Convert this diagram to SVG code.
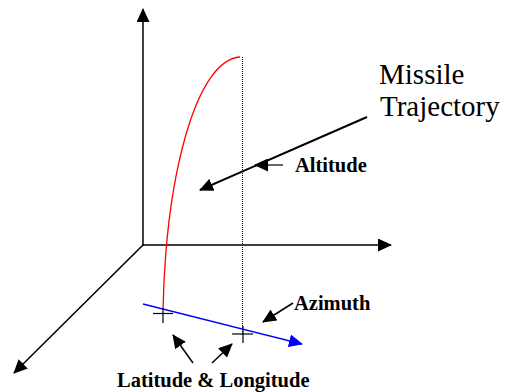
<svg xmlns="http://www.w3.org/2000/svg" width="516" height="392" viewBox="0 0 516 392">
<style>
.ax{stroke:#000;stroke-width:1.5;fill:none}
.lbl{font-family:"Liberation Serif","Times New Roman",serif;font-weight:bold;font-size:20.5px;fill:#000}
.big{font-family:"Liberation Serif","Times New Roman",serif;font-size:29px;fill:#000}
.cr{stroke:#000;stroke-width:1.2;fill:none}
</style>
<defs>
<marker id="ah" markerUnits="userSpaceOnUse" markerWidth="14" markerHeight="13" refX="13" refY="6.5" orient="auto"><path d="M0,0 L14,6.5 L0,13 Z" fill="#000"/></marker>
<marker id="ahb" markerUnits="userSpaceOnUse" markerWidth="14" markerHeight="13" refX="13" refY="6.5" orient="auto"><path d="M0,0 L14,6.5 L0,13 Z" fill="#0000ff"/></marker>
</defs>
<g id="axes">
<line class="ax" x1="143" y1="246" x2="143" y2="9" marker-end="url(#ah)"/>
<line class="ax" x1="142" y1="245" x2="391" y2="245" marker-end="url(#ah)"/>
<line class="ax" x1="143" y1="245" x2="14" y2="373" marker-end="url(#ah)"/>
</g>
<g id="trajectory">
<path d="M240,57 C196,60 166,175 163,310" stroke="#ff0000" stroke-width="1.3" fill="none"/>
</g>
<g id="drop-line">
<line x1="242.5" y1="57" x2="242.5" y2="334" stroke="#000" stroke-width="1" stroke-dasharray="1,1"/>
</g>
<g id="azimuth-line">
<line x1="143" y1="304" x2="302" y2="344" stroke="#0000ff" stroke-width="1.5" marker-end="url(#ahb)"/>
</g>
<g id="cross1">
<line class="cr" x1="153" y1="313.5" x2="173" y2="313.5"/>
<line class="cr" x1="163" y1="308" x2="163" y2="323"/>
</g>
<g id="cross2">
<line class="cr" x1="232" y1="334" x2="253" y2="334"/>
<line class="cr" x1="243" y1="326" x2="243" y2="343"/>
</g>
<g id="missile-label">
<text class="big" x="379" y="84">Missile</text>
<text class="big" x="380" y="116">Trajectory</text>
</g>
<g id="altitude-label"><text class="lbl" x="295" y="172">Altitude</text></g>
<g id="azimuth-label"><text class="lbl" x="294" y="310">Azimuth</text></g>
<g id="latlong-label"><text class="lbl" x="117" y="387">Latitude &amp; Longitude</text></g>
<g id="connectors">
<line x1="367" y1="117" x2="200" y2="190" stroke="#000" stroke-width="2" marker-end="url(#ah)"/>
<line x1="283" y1="165" x2="255" y2="165" stroke="#000" stroke-width="1.2" marker-end="url(#ah)"/>
<line x1="293" y1="303" x2="263" y2="322" stroke="#000" stroke-width="1.5" marker-end="url(#ah)"/>
<line x1="193" y1="363" x2="173" y2="335" stroke="#000" stroke-width="1.5" marker-end="url(#ah)"/>
<line x1="212" y1="363" x2="232" y2="344" stroke="#000" stroke-width="1.5" marker-end="url(#ah)"/>
</g>
</svg>
